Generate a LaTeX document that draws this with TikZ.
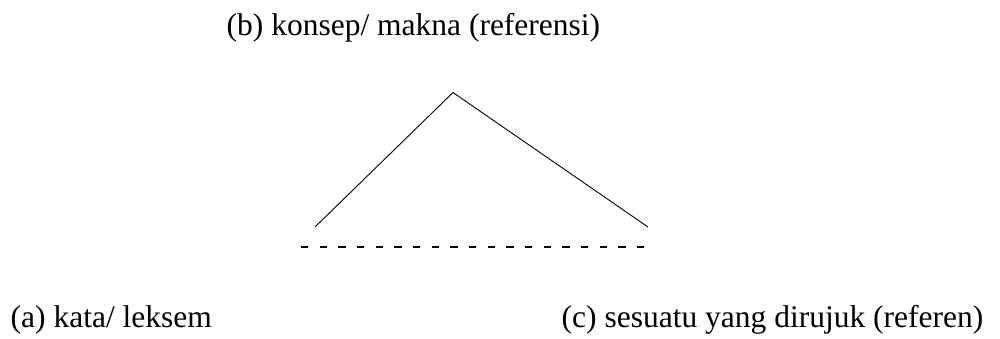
\documentclass[tikz,border=0pt]{standalone}
\usepackage{fontspec}
\setmainfont{Liberation Serif}
\begin{document}
\begin{tikzpicture}[x=1pt,y=-1pt,
  lbl/.style={anchor=base west,inner sep=0pt,font=\fontsize{31.5}{36}\selectfont},
  leg/.style={line width=0.9pt,line cap=butt},
  dashline/.style={line width=1.8pt,dash pattern=on 7.3pt off 11.37pt}]
\useasboundingbox[fill=white] (0,0) rectangle (1000,338);
\node[lbl] (b) at (226.5,35.5) {(b) konsep/ makna (referensi)};
\node[lbl] (a) at (10.5,327) {(a) kata/ leksem};
\node[lbl] (c) at (561.5,327) {(c) sesuatu yang dirujuk (referen)};
\coordinate (apex) at (453,92.5);
\coordinate (L) at (315,227);
\coordinate (R) at (648,227);
\coordinate (dL) at (301,247);
\coordinate (dR) at (648,247);
\draw[leg] (L) -- (apex) -- (R);
\draw[dashline] (dL) -- (dR);
\end{tikzpicture}
\end{document}
